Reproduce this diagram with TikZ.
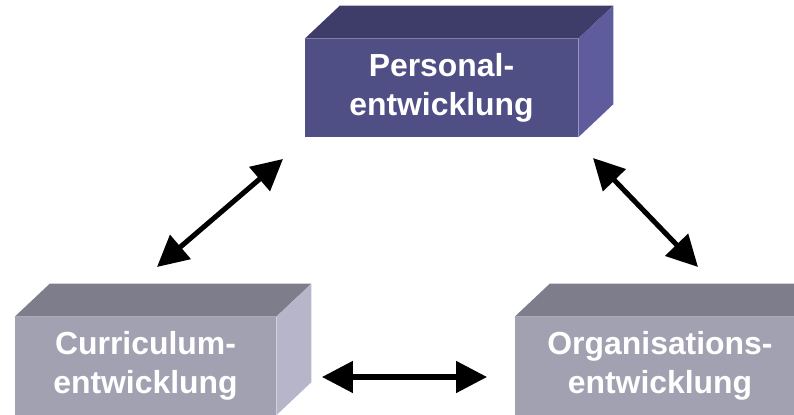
\documentclass[tikz,border=0pt]{standalone}
\usepackage{fontspec}
\setmainfont{Liberation Sans}
\usetikzlibrary{arrows.meta}

\definecolor{persfront}{RGB}{79,78,133}
\definecolor{perstop}{RGB}{62,61,106}
\definecolor{persside}{RGB}{95,92,158}
\definecolor{grayfront}{RGB}{162,161,178}
\definecolor{graytop}{RGB}{126,125,139}
\definecolor{grayside}{RGB}{182,181,201}

\tikzset{
    front/.style={fill=#1, inner sep=0pt, text=white, align=center,
        font=\bfseries\fontsize{22.7}{27.5}\selectfont},
    link/.style={line width=3.6pt,
        {Triangle[length=22pt,width=22pt]}-{Triangle[length=22pt,width=22pt]}}
}

\begin{document}
\begin{tikzpicture}[line join=round, x=1cm, y=1cm]
                \useasboundingbox (0, 0) rectangle (19.85, 10.375);
                \clip (0, 0) rectangle (19.85, 10.375);
                % front faces
                \node[front=persfront, minimum width=6.825cm, minimum height=2.45cm] (pers) at (11.0375, 8.175) {Personal-\\entwicklung};
                \node[front=grayfront, minimum width=6.525cm, minimum height=2.45cm] (curr) at (3.6375, 1.225) {Curriculum-\\entwicklung};
                \node[front=grayfront, minimum width=7.25cm, minimum height=2.45cm] (org) at (16.5, 1.225) {Organisations-\\entwicklung};
                % top and side faces
                \foreach \blk/\topcol/\sidecol in {pers/perstop/persside, curr/graytop/grayside, org/graytop/grayside} {
                    \fill[\topcol] (\blk.north west) -- (\blk.north east) -- ++(0.875, 0.825)
                        -- ([shift={(0.875, 0.825)}]\blk.north west) -- cycle;
                    \fill[\sidecol] (\blk.north east) -- (\blk.south east) -- ++(0.875, 0.825)
                        -- ([shift={(0.875, 0.825)}]\blk.north east) -- cycle;
                }
                % arrow ends
                \coordinate (pl) at (7.075, 6.4);
                \coordinate (cl) at (3.925, 3.7);
                \coordinate (pr) at (14.825, 6.425);
                \coordinate (or) at (17.45, 3.7);
                \coordinate (cr) at (8.05, 0.95);
                \coordinate (ol) at (12.175, 0.95);
                \draw[link] (cl) -- (pl);
                \draw[link] (pr) -- (or);
                \draw[link] (cr) -- (ol);
            \end{tikzpicture}
\end{document}
